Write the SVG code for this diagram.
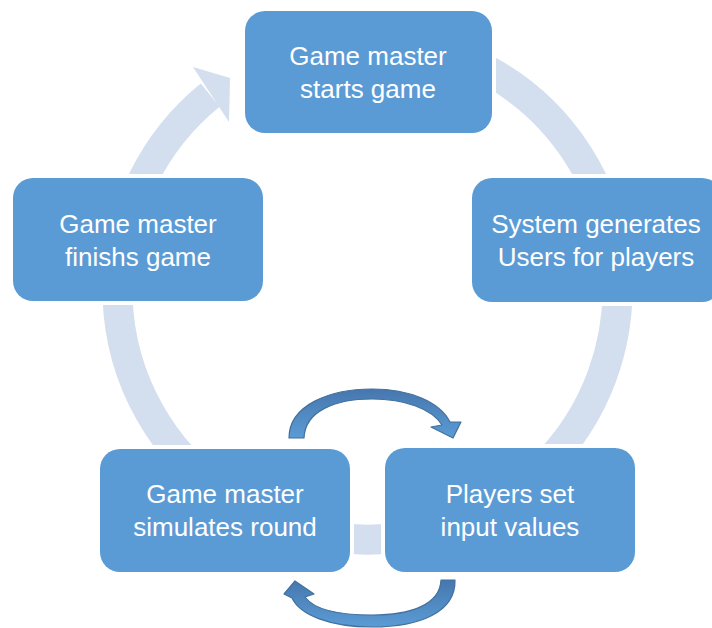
<svg xmlns="http://www.w3.org/2000/svg" width="712" height="628" viewBox="0 0 712 628">
<defs>
<style>
.box{fill:#5B9BD5;stroke:#FFFFFF;stroke-width:8;paint-order:stroke}
.lbl{font-family:"Liberation Sans",Arial,sans-serif;font-size:26px;fill:#FFFFFF;text-anchor:middle}
.ring{fill:none;stroke:#D3DEEF;stroke-width:30}
.carr{fill:url(#ag);stroke:#41719C;stroke-width:1.2;stroke-linejoin:round}
</style>
<linearGradient id="ag" x1="0" y1="0" x2="0" y2="1">
<stop offset="0" stop-color="#4677AE"/>
<stop offset="1" stop-color="#5B9BD5"/>
</linearGradient>
</defs>
<rect width="712" height="628" fill="#FFFFFF"/>
<g id="connectors">
<path class="ring" d="M 389.3,40.5 A 250 250 0 1 1 210.2,95.2"/>
<polygon points="193,67 230,78 229,122" fill="#D3DEEF"/>
<path class="carr" d="M 289,438 C 289,405 330,389 372,389 C 410,389 440,402 450,422 L 461,422 L 453,438 L 431,427 L 442,425 C 432,409 405,399 372,399 C 335,399 305,411 304,438 Z"/>
<path class="carr" d="M 455,580 C 456,612 420,627 372,627 C 330,627 300,615 292,598 L 284,594 L 295,581 L 314,594 L 305,597 C 313,608 335,615 372,615 C 410,615 440,605 441,580 Z"/>
</g>
<g id="n1"><rect class="box" x="245" y="11" width="247" height="122" rx="20"/><text class="lbl" x="368" y="65">Game master</text><text class="lbl" x="368" y="98">starts game</text></g>
<g id="n2"><rect class="box" x="472" y="178" width="250" height="124" rx="20"/><text class="lbl" x="596" y="233">System generates</text><text class="lbl" x="596" y="266">Users for players</text></g>
<g id="n3"><rect class="box" x="385" y="448" width="250" height="124" rx="20"/><text class="lbl" x="510" y="503">Players set</text><text class="lbl" x="510" y="536">input values</text></g>
<g id="n4"><rect class="box" x="100" y="449" width="250" height="123" rx="20"/><text class="lbl" x="225" y="503">Game master</text><text class="lbl" x="225" y="536">simulates round</text></g>
<g id="n5"><rect class="box" x="13" y="178" width="250" height="123" rx="20"/><text class="lbl" x="138" y="233">Game master</text><text class="lbl" x="138" y="266">finishs game</text></g>
</svg>
